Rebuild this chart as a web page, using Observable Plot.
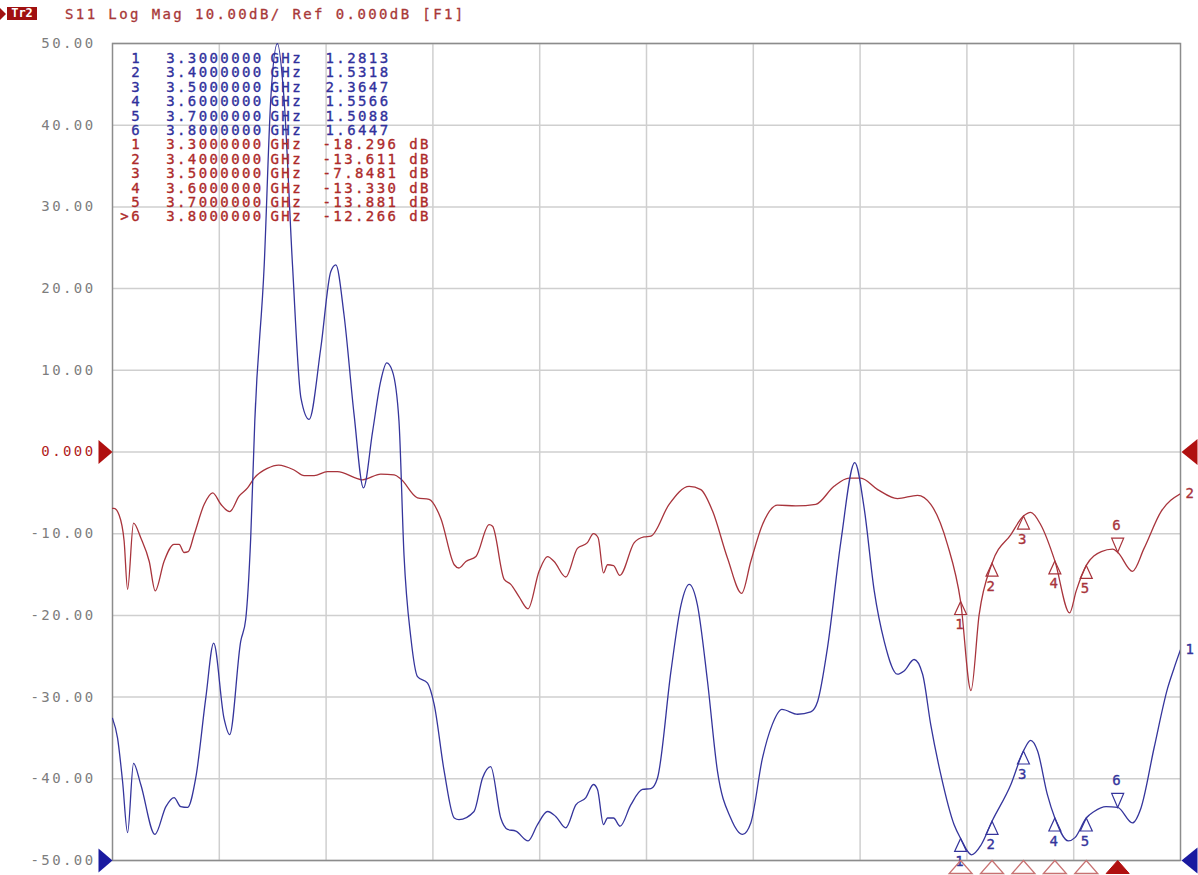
<!DOCTYPE html>
<html><head><meta charset="utf-8">
<script src="https://cdn.jsdelivr.net/npm/d3@7"></script>
<script src="https://cdn.jsdelivr.net/npm/@observablehq/plot@0.6"></script>
<style>
body{margin:0;background:#fff;}
#wrap{position:relative;width:1198px;height:875px;overflow:hidden;}
#tri{position:absolute;left:0;top:8px;width:0;height:0;border-left:6px solid #a01010;border-top:6px solid transparent;border-bottom:6px solid transparent;}
#tr{position:absolute;left:7px;top:7px;width:30px;height:13px;background:#a01010;color:#fff;font:bold 12px "DejaVu Sans Mono";line-height:13px;text-align:center;}
#ttxt{position:absolute;left:65px;top:7px;font:14px "DejaVu Sans Mono";line-height:15px;letter-spacing:2.4px;color:#a83838;white-space:pre;-webkit-text-stroke:0.3px #a83838;}
#chart{position:absolute;left:0;top:0;}
svg text{letter-spacing:2.4px;}
</style></head>
<body><div id="wrap">
<div id="chart"></div>
<span id="tri"></span><span id="tr">Tr2</span><span id="ttxt">S11 Log Mag 10.00dB/ Ref 0.000dB [F1]</span>
</div>
<script>
const freqDomain = [0.6, 4.0];
const dbDomain = [-50, 50];
const yTicks = [50, 40, 30, 20, 10, 0, -10, -20, -30, -40, -50];
const gridFreqs = [0.94, 1.28, 1.62, 1.96, 2.30, 2.64, 2.98, 3.32, 3.66];
const refLevel = 0;

const redFreq = [0.600,0.605,0.621,0.637,0.648,0.667,0.690,0.717,0.736,0.764,0.796,0.812,0.828,0.841,0.860,0.892,0.919,0.945,0.973,1.003,1.030,1.051,1.093,1.129,1.178,1.210,1.242,1.284,1.316,1.396,1.454,1.497,1.518,1.571,1.608,1.645,1.688,1.703,1.725,1.757,1.799,1.810,1.847,1.868,1.894,1.923,1.958,1.985,2.006,2.043,2.080,2.112,2.131,2.146,2.163,2.176,2.195,2.215,2.261,2.292,2.314,2.372,2.436,2.473,2.510,2.558,2.603,2.632,2.669,2.717,2.775,2.839,2.897,2.945,2.982,3.036,3.099,3.163,3.205,3.258,3.300,3.333,3.359,3.400,3.460,3.500,3.523,3.555,3.600,3.647,3.668,3.700,3.748,3.784,3.800,3.847,3.884,3.938,4.000];
const redDb = [-6.9,-6.9,-7.7,-10.9,-16.8,-8.7,-10.5,-13.4,-17.0,-13.4,-11.3,-11.3,-12.3,-12.2,-10.1,-6.4,-5.0,-6.4,-7.3,-5.4,-4.4,-3.2,-2.0,-1.6,-2.2,-2.9,-2.9,-2.4,-2.4,-3.4,-2.7,-2.8,-3.3,-5.6,-5.8,-8.1,-13.8,-14.2,-13.4,-12.8,-8.9,-9.1,-15.6,-16.2,-17.7,-19.2,-14.6,-12.8,-13.4,-15.3,-11.8,-11.1,-10.0,-10.5,-14.8,-13.8,-13.9,-15.1,-11.1,-10.4,-10.3,-6.4,-4.2,-4.6,-7.2,-13.0,-17.3,-13.4,-8.9,-6.5,-6.6,-6.4,-4.2,-3.2,-3.2,-4.6,-5.7,-5.3,-6.4,-11.3,-18.296,-29.2,-19.9,-13.611,-10.1,-7.848,-7.4,-8.9,-13.33,-19.7,-17.0,-13.881,-12.2,-11.9,-12.266,-14.6,-11.8,-7.3,-5.1];

const blueFreq = [0.600,0.616,0.632,0.648,0.667,0.690,0.735,0.770,0.796,0.817,0.839,0.865,0.897,0.922,0.955,0.973,1.008,1.024,1.040,1.053,1.083,1.104,1.125,1.146,1.173,1.200,1.226,1.263,1.295,1.311,1.337,1.369,1.399,1.428,1.454,1.473,1.491,1.512,1.528,1.550,1.571,1.603,1.624,1.656,1.688,1.703,1.751,1.778,1.804,1.836,1.858,1.884,1.923,1.953,1.985,2.011,2.043,2.075,2.107,2.131,2.144,2.163,2.176,2.195,2.216,2.250,2.287,2.314,2.335,2.378,2.410,2.436,2.462,2.494,2.526,2.568,2.606,2.632,2.669,2.700,2.731,2.781,2.823,2.845,2.876,2.919,2.963,2.993,3.025,3.057,3.099,3.120,3.152,3.179,3.205,3.237,3.279,3.300,3.335,3.365,3.400,3.460,3.500,3.523,3.545,3.576,3.600,3.643,3.664,3.700,3.725,3.763,3.800,3.847,3.874,3.916,3.959,3.980,4.000];
const blueDb = [-32.6,-35.0,-40.3,-46.6,-38.1,-40.7,-46.8,-43.4,-42.3,-43.4,-43.5,-39.9,-30.1,-23.4,-32.6,-34.6,-23.2,-20.5,-10.5,3.8,22.9,43.3,50,43.3,22.9,6.6,4.0,12.7,22.1,22.9,16.8,4.6,-4.4,2.5,8.7,10.9,9.9,3.8,-12.6,-22.8,-27.5,-28.3,-30.9,-39.1,-44.8,-45.0,-44.0,-39.9,-38.5,-44.8,-46.2,-46.4,-47.6,-45.6,-44.0,-44.6,-46.0,-43.2,-42.3,-40.7,-41.3,-45.6,-44.8,-44.8,-45.8,-43.2,-41.3,-41.2,-39.9,-26.8,-18.7,-16.2,-18.7,-28.0,-39.1,-44.8,-46.8,-45.4,-37.5,-33.4,-31.5,-32.1,-31.8,-30.5,-24.0,-10.9,-1.3,-6.9,-17.0,-23.2,-27.2,-26.8,-25.4,-27.2,-33.4,-39.5,-45.6,-47.3,-49.3,-48.1,-45.2,-40.7,-36.6,-35.3,-36.6,-41.9,-44.8,-47.6,-47.2,-44.8,-44.0,-43.4,-43.5,-45.4,-43.6,-36.2,-28.9,-26.4,-24.2];

const markerNum = [1, 2, 3, 4, 5, 6];
const markerFreq = [3.3, 3.4, 3.5, 3.6, 3.7, 3.8];
const markerSwrText = ["1.2813", "1.5318", "2.3647", "1.5566", "1.5088", "1.6447"];
const markerDbText = ["-18.296", "-13.611", "-7.8481", "-13.330", "-13.881", "-12.266"];
const markerBlueY = [-47.3, -45.2, -36.6, -44.8, -44.8, -43.5];
const activeMarker = 6;
const traceNames = ["1", "2"];

const RED = "#a8343c", BLUE = "#35359c", TRED = "#ad2a2a", TBLUE = "#30309c";
const GRID = "#cfcfcf";
const FS = 14;
const SW = 0.35;

const red = redFreq.map((f, i) => ({f, v: redDb[i]}));
const blue = blueFreq.map((f, i) => ({f, v: blueDb[i]}));
const mk = markerNum.map((n, i) => ({n, f: markerFreq[i], r: +markerDbText[i], b: markerBlueY[i], active: n === activeMarker}));

const shape = pts => ({draw(ctx) { ctx.moveTo(pts[0][0], pts[0][1]); for (let k = 1; k < pts.length; k++) ctx.lineTo(pts[k][0], pts[k][1]); ctx.closePath(); }});
const upTri = shape([[0,0],[6,13],[-6,13]]);
const downTri = shape([[0,0],[6,-14],[-6,-14]]);
const bottomTri = shape([[0,0],[11.5,13],[-11.5,13]]);
const refRight = shape([[0,0],[-14,-12],[-14,12]]);
const refLeft = shape([[1,0],[17,-13],[17,13]]);

const lh = 14.4 / FS;
const numLines = markerNum.map(String).join("\n");
const numLinesRed = markerNum.map(n => (n === activeMarker ? ">" : "") + n).join("\n");
const freqLines = markerFreq.map(f => f.toFixed(7)).join("\n");
const ghzLines = markerFreq.map(() => "GHz").join("\n");
const swrLines = markerSwrText.join("\n");
const dbLines = markerDbText.map(t => t + " dB").join("\n");
const tableCol = (txt, dx, dy, fill, anchor) => Plot.text([txt], {text: d => d, frameAnchor: "top-left", dx, dy, textAnchor: anchor, lineAnchor: "top", lineHeight: lh, fill, stroke: fill, strokeWidth: SW, fontSize: FS});
const top1 = 9.2, top2 = 9.2 + 6 * 14.4;
const lbl = (data, y, dy, color) => Plot.text(data, {x: "f", y, text: d => String(d.n), dy, fill: color, stroke: color, strokeWidth: SW, fontSize: FS});

const chart = Plot.plot({
  width: 1198, height: 875,
  marginTop: 43, marginBottom: 15, marginLeft: 112, marginRight: 18,
  x: {domain: freqDomain, axis: null},
  y: {domain: dbDomain, axis: null},
  style: {fontFamily: "DejaVu Sans Mono", fontSize: FS + "px", background: "transparent", overflow: "visible"},
  marks: [
    Plot.gridY(yTicks, {stroke: GRID, strokeOpacity: 1, strokeWidth: 1.5}),
    Plot.gridX(gridFreqs, {stroke: GRID, strokeOpacity: 1, strokeWidth: 1.5}),
    Plot.frame({stroke: "#8c8c8c", strokeWidth: 1.5}),
    Plot.axisY(yTicks.filter(t => t !== refLevel), {tickSize: 0, tickPadding: 17, tickFormat: d => d.toFixed(2), fill: "#7d7d7d", stroke: "#7d7d7d", strokeWidth: SW, fontSize: FS, label: null}),
    Plot.axisY([refLevel], {tickSize: 0, tickPadding: 17, tickFormat: d => d.toFixed(3), fill: "#b02020", stroke: "#b02020", strokeWidth: SW, fontSize: FS, label: null}),
    Plot.line(red, {x: "f", y: "v", stroke: RED, strokeWidth: 1.3, curve: "monotone-x", clip: true}),
    Plot.line(blue, {x: "f", y: "v", stroke: BLUE, strokeWidth: 1.3, curve: "monotone-x", clip: true}),
    // marker table
    tableCol(numLines, 29.5, top1, TBLUE, "end"),
    tableCol(freqLines, 53.7, top1, TBLUE, "start"),
    tableCol(ghzLines, 158, top1, TBLUE, "start"),
    tableCol(swrLines, 213, top1, TBLUE, "start"),
    tableCol(numLinesRed, 29.5, top2, TRED, "end"),
    tableCol(freqLines, 53.7, top2, TRED, "start"),
    tableCol(ghzLines, 158, top2, TRED, "start"),
    tableCol(dbLines, 210, top2, TRED, "start"),
    // markers on traces
    Plot.dot(mk.filter(d => !d.active), {x: "f", y: "r", symbol: upTri, stroke: RED, fill: "none", strokeWidth: 1.2}),
    Plot.dot(mk.filter(d => d.active), {x: "f", y: "r", symbol: downTri, stroke: RED, fill: "none", strokeWidth: 1.2}),
    lbl(mk.filter(d => !d.active), "r", 23, RED),
    lbl(mk.filter(d => d.active), "r", -27, RED),
    Plot.dot(mk.filter(d => !d.active), {x: "f", y: "b", symbol: upTri, stroke: BLUE, fill: "none", strokeWidth: 1.2}),
    Plot.dot(mk.filter(d => d.active), {x: "f", y: "b", symbol: downTri, stroke: BLUE, fill: "none", strokeWidth: 1.2}),
    lbl(mk.filter(d => !d.active), "b", 23, BLUE),
    lbl(mk.filter(d => d.active), "b", -27, BLUE),
    // marker row below the grid
    Plot.dot(mk.filter(d => !d.active), {x: "f", y: () => dbDomain[0], symbol: bottomTri, stroke: "#c87272", fill: "none", strokeWidth: 1.3}),
    Plot.dot(mk.filter(d => d.active), {x: "f", y: () => dbDomain[0], symbol: bottomTri, stroke: "#b01010", fill: "#b01010", strokeWidth: 1}),
    // reference level arrows
    Plot.dot([refLevel], {x: () => freqDomain[0], y: d => d, symbol: refRight, fill: "#b01010", stroke: "none"}),
    Plot.dot([refLevel], {x: () => freqDomain[1], y: d => d, symbol: refLeft, fill: "#b01010", stroke: "none"}),
    Plot.dot([dbDomain[0]], {x: () => freqDomain[0], y: d => d, symbol: refRight, fill: "#1a1aa0", stroke: "none"}),
    Plot.dot([dbDomain[0]], {x: () => freqDomain[1], y: d => d, symbol: refLeft, fill: "#1a1aa0", stroke: "none"}),
    // trace end labels
    Plot.text([red[red.length - 1]], {x: "f", y: "v", text: () => traceNames[1], dx: 5, textAnchor: "start", fill: RED, stroke: RED, strokeWidth: SW, fontSize: FS}),
    Plot.text([blue[blue.length - 1]], {x: "f", y: "v", text: () => traceNames[0], dx: 5, textAnchor: "start", fill: BLUE, stroke: BLUE, strokeWidth: SW, fontSize: FS})
  ]
});
document.getElementById("chart").appendChild(chart);
</script>
</body></html>
